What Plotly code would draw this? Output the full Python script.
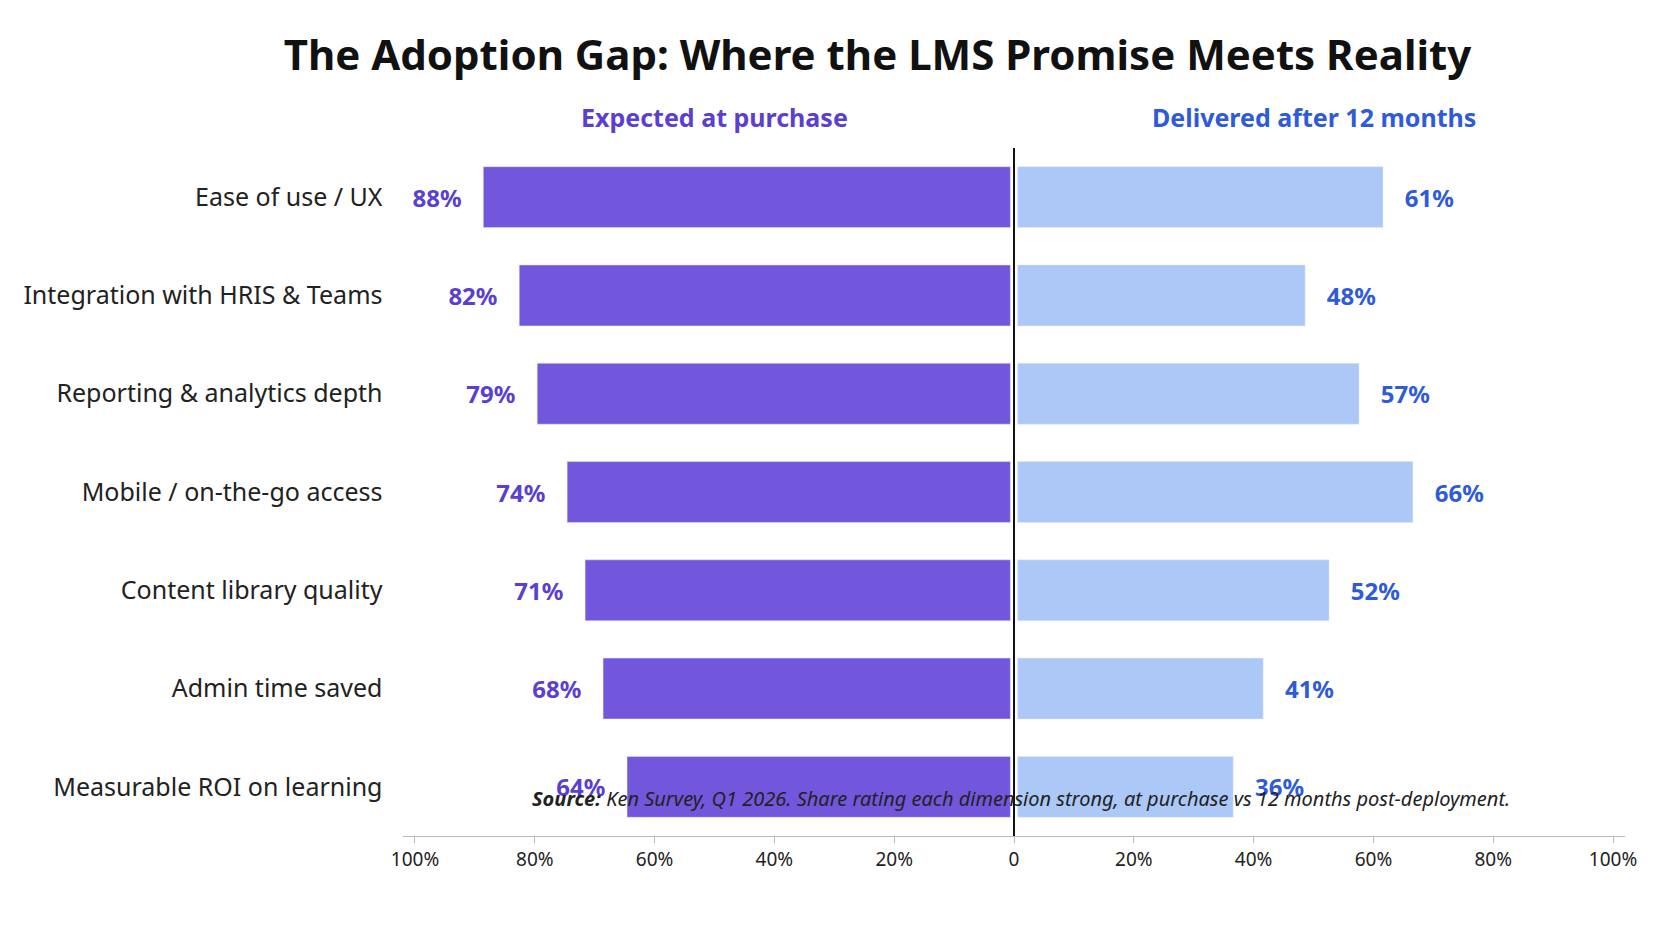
import plotly.graph_objects as go

categories = ["Ease of use / UX", "Integration with HRIS & Teams", "Reporting & analytics depth",
              "Mobile / on-the-go access", "Content library quality", "Admin time saved",
              "Measurable ROI on learning"]
expected = [88, 82, 79, 74, 71, 68, 64]
delivered = [61, 48, 57, 66, 52, 41, 36]
tick_vals = [-100, -80, -60, -40, -20, 0, 20, 40, 60, 80, 100]
tick_text = ["100%", "80%", "60%", "40%", "20%", "0", "20%", "40%", "60%", "80%", "100%"]

purple = "#7257dc"
purple_txt = "#5b3fd0"
blue = "#abc8f7"
blue_txt = "#2f5bd8"

fig = go.Figure()
fig.add_trace(go.Bar(
    y=categories, x=[-v for v in expected], base=-0.6, orientation="h",
    marker_color=purple, text=[f"{v}%   " for v in expected], textposition="outside",
    textfont=dict(color=purple_txt, size=24, family="Noto Sans", weight="bold"),
    cliponaxis=False, width=0.62, hoverinfo="skip",
))
fig.add_trace(go.Bar(
    y=categories, x=delivered, base=0.6, orientation="h",
    marker_color=blue, text=[f"   {v}%" for v in delivered], textposition="outside",
    textfont=dict(color=blue_txt, size=24, family="Noto Sans", weight="bold"),
    cliponaxis=False, width=0.62, hoverinfo="skip",
))

fig.add_shape(type="line", x0=0, x1=0, y0=0, y1=1, xref="x", yref="paper",
              line=dict(color="#111", width=2))

fig.update_layout(
    width=1672, height=941, barmode="overlay", showlegend=False,
    plot_bgcolor="white", paper_bgcolor="white",
    margin=dict(l=395, r=55, t=140, b=113),
    font=dict(family="Noto Sans", color="#222"),
    title=dict(text="<b>The Adoption Gap: Where the LMS Promise Meets Reality</b>",
               x=0.52, xanchor="center", y=0.965, font=dict(size=42, color="#111")),
    xaxis=dict(range=[-102, 102], tickvals=tick_vals, ticktext=tick_text,
               tickfont=dict(size=19), showgrid=False, zeroline=False,
               showline=True, linecolor="#bbb", ticks="outside", ticklen=6, tickcolor="#bbb"),
    yaxis=dict(autorange="reversed", tickfont=dict(size=25, color="#222"),
               showgrid=False, ticksuffix="   "),
    annotations=[
        dict(text="<b>Expected at purchase</b>", x=-50, y=1.0, xref="x", yref="paper",
             yanchor="bottom", yshift=12, showarrow=False, font=dict(size=25, color=purple_txt)),
        dict(text="<b>Delivered after 12 months</b>", x=50, y=1.0, xref="x", yref="paper",
             yanchor="bottom", yshift=12, showarrow=False, font=dict(size=25, color=blue_txt)),
        dict(text="<b>Source:</b> Ken Survey, Q1 2026. Share rating each dimension strong, "
                  "at purchase vs 12 months post-deployment.",
             x=0.506, y=0.055, xref="paper", yref="paper", yanchor="middle", showarrow=False,
             font=dict(size=20, color="#222", style="italic")),
    ],
)
fig.update_annotations(selector=dict(y=0.055), xref="paper", yref="paper")
fig.layout.annotations[2].update(x=0.506, y=0.055, xref="paper", yref="paper")
fig.layout.annotations[2].update(yref="paper")
fig.write_html("out.html")
